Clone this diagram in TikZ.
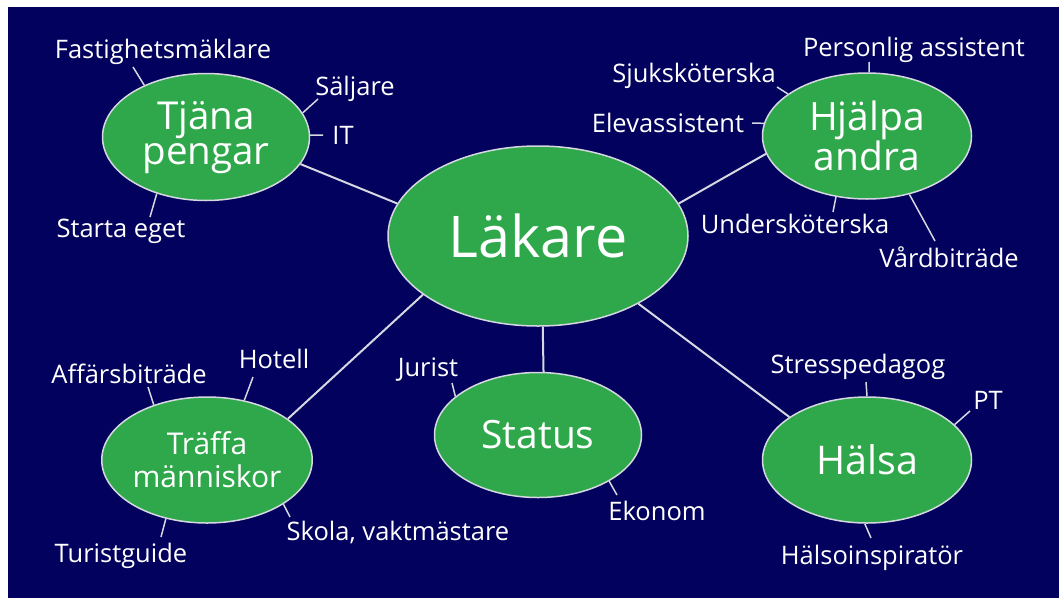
\documentclass[tikz,border=0pt]{standalone}
\usepackage{fontspec}
\setmainfont{Open Sans}
\usetikzlibrary{shapes.geometric}
\definecolor{bg}{HTML}{02015E}
\definecolor{gr}{HTML}{2EA84A}
\definecolor{ln}{HTML}{D5D8E0}
\begin{document}
\begin{tikzpicture}[x=1pt,y=-1pt,
  cat/.style={ellipse, draw=ln, line width=1.5pt, fill=gr, text=white, inner sep=0pt, align=center},
  lbl/.style={text=white, anchor=base, font=\fontsize{25.5}{29}\selectfont, inner sep=0pt},
  con/.style={draw=ln, line width=2pt},
  tk/.style={draw=ln, line width=1.5pt}]
\fill[white] (0,0) rectangle (1059,598);
\fill[bg] (8,7) rectangle (1059,598);
\useasboundingbox (0,0) rectangle (1059,598);

% category ellipses
\node[cat, minimum width=300, minimum height=180, font=\fontsize{57.5}{60}\selectfont] (lak) at (538,236) {Läkare};
\node[cat, minimum width=207, minimum height=127, font=\fontsize{38.5}{35}\selectfont] (tja) at (206,137) {Tjäna\\pengar};
\node[cat, minimum width=209, minimum height=126, font=\fontsize{39}{34}\selectfont] (hja) at (867,136) {Hjälpa\\andra};
\node[cat, minimum width=209, minimum height=126, font=\fontsize{30}{33}\selectfont] (tra) at (207,460) {Träffa\\människor};
\node[cat, minimum width=207, minimum height=125, font=\fontsize{39}{40}\selectfont] (sta) at (538,435) {Status};
\node[cat, minimum width=209, minimum height=126, font=\fontsize{39.5}{40}\selectfont] (hal) at (867,460) {Hälsa};

% main connectors
\draw[con] (lak.167) -- (tja.-16);
\draw[con] (lak.13) -- (hja.190);
\draw[con] (lak.207) -- (tra.27);
\draw[con] (lak.273) -- (sta.85);
\draw[con] (lak.326) -- (hal.151);

% labels
\node[lbl] (l1) at (163,58) {Fastighetsmäklare};
\node[lbl] (l2) at (355,95) {Säljare};
\node[lbl] (l3) at (343,144) {IT};
\node[lbl] (l4) at (121,237) {Starta eget};
\node[lbl] (l5) at (914,56) {Personlig assistent};
\node[lbl] (l6) at (694,82) {Sjuksköterska};
\node[lbl] (l7) at (668,132) {Elevassistent};
\node[lbl] (l8) at (795,233) {Undersköterska};
\node[lbl] (l9) at (949,267) {Vårdbiträde};
\node[lbl] (l10) at (129,383) {Affärsbiträde};
\node[lbl] (l11) at (274,368) {Hotell};
\node[lbl] (l12) at (121,562) {Turistguide};
\node[lbl] (l13) at (398,540) {Skola, vaktmästare};
\node[lbl] (l14) at (428,376) {Jurist};
\node[lbl] (l15) at (657,520) {Ekonom};
\node[lbl] (l16) at (858,373) {Stresspedagog};
\node[lbl] (l17) at (988,409) {PT};
\node[lbl] (l18) at (872,564) {Hälsoinspiratör};

% tick ends
\coordinate (t1) at (133,67);
\coordinate (t2) at (318,99);
\coordinate (t3) at (323,135);
\coordinate (t4) at (150,217);
\coordinate (t5) at (869,62);
\coordinate (t6) at (777,87);
\coordinate (t7) at (752,123);
\coordinate (t8) at (833,212);
\coordinate (t9) at (935,241);
\coordinate (t10) at (148,387);
\coordinate (t11) at (253,377);
\coordinate (t12) at (161,537);
\coordinate (t13) at (290,517);
\coordinate (t14) at (452,383);
\coordinate (t15) at (617,495);
\coordinate (t16) at (866,382);
\coordinate (t17) at (970,411);
\coordinate (t18) at (871,538);

\draw[tk] (tja.140) -- (t1);
\draw[tk] (tja.14) -- (t2);
\draw[tk] (tja.1) -- (t3);
\draw[tk] (tja.229) -- (t4);
\draw[tk] (hja.88) -- (t5);
\draw[tk] (hja.152) -- (t6);
\draw[tk] (hja.173) -- (t7);
\draw[tk] (hja.243) -- (t8);
\draw[tk] (hja.306) -- (t9);
\draw[tk] (tra.134) -- (t10);
\draw[tk] (tra.58) -- (t11);
\draw[tk] (tra.235) -- (t12);
\draw[tk] (tra.330) -- (t13);
\draw[tk] (sta.155) -- (t14);
\draw[tk] (sta.327) -- (t15);
\draw[tk] (hal.90) -- (t16);
\draw[tk] (hal.22) -- (t17);
\draw[tk] (hal.268) -- (t18);
\end{tikzpicture}
\end{document}
